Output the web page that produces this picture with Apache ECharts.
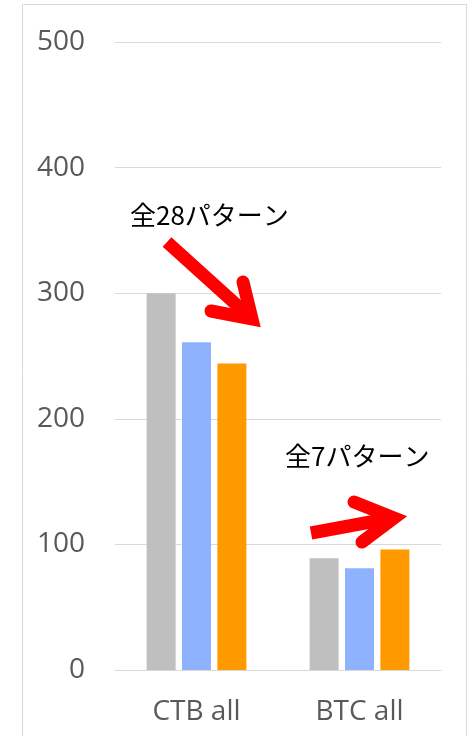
<!DOCTYPE html>
<html>
<head>
<meta charset="utf-8">
<script src="https://cdn.jsdelivr.net/npm/echarts@6/dist/echarts.min.js"></script>
<style>
html,body{margin:0;padding:0;background:#fff;}
#chart{width:471px;height:736px;}
</style>
</head>
<body>
<div id="chart"></div>
<script>
const categories = ['CTB all', 'BTC all'];
const seriesGray = [300, 89];
const seriesBlue = [261, 81];
const seriesOrange = [244, 96];
const yTicks = [0, 100, 200, 300, 400, 500];
const note1 = '全28パターン';
const note2 = '全7パターン';

const chart = echarts.init(document.getElementById('chart'));
const RED = '#FF0000';
function arrow(shaft, head) {
  return [
    { type: 'polyline', shape: { points: shaft }, style: { stroke: RED, lineWidth: 13, lineCap: 'butt', fill: null }, z: 100 },
    { type: 'polyline', shape: { points: head }, style: { stroke: RED, lineWidth: 13, lineCap: 'round', lineJoin: 'miter', fill: null }, z: 100 }
  ];
}
chart.setOption({
  animation: false,
  grid: { left: 115, right: 30, top: 42, bottom: 66, containLabel: false },
  xAxis: {
    type: 'category',
    data: categories,
    axisLine: { lineStyle: { color: '#D9D9D9', width: 1 } },
    axisTick: { show: false },
    axisLabel: { fontSize: 28, color: '#595959', fontFamily: 'Open Sans', margin: 28 }
  },
  yAxis: {
    type: 'value',
    min: yTicks[0],
    max: yTicks[yTicks.length - 1],
    interval: 100,
    axisLine: { show: false },
    axisTick: { show: false },
    splitLine: { lineStyle: { color: '#D9D9D9', width: 1 } },
    axisLabel: { fontSize: 28, color: '#595959', fontFamily: 'Open Sans', margin: 30 }
  },
  series: [
    { type: 'bar', data: seriesGray, barWidth: 29, barGap: '22%', itemStyle: { color: '#BFBFBF' } },
    { type: 'bar', data: seriesBlue, barWidth: 29, barGap: '22%', itemStyle: { color: '#8FB2FF' } },
    { type: 'bar', data: seriesOrange, barWidth: 29, barGap: '22%', itemStyle: { color: '#FF9900' } }
  ],
  graphic: [
    { type: 'rect', shape: { x: 22.5, y: 4.5, width: 444, height: 760 }, style: { fill: null, stroke: '#D9D9D9', lineWidth: 1 }, z: 0, silent: true },
    { type: 'text', left: 130, top: 202, style: { text: note1, font: '26px "Noto Sans CJK JP"', fill: '#000' }, z: 100 },
    { type: 'text', left: 285, top: 443, style: { text: note2, font: '26px "Noto Sans CJK JP"', fill: '#000' }, z: 100 }
  ].concat(
    arrow([[167, 242], [250, 317]], [[243, 282], [252, 319], [211, 311]]),
    arrow([[311, 533], [392, 518]], [[354, 502], [394, 518], [362, 542]])
  )
});
</script>
</body>
</html>
